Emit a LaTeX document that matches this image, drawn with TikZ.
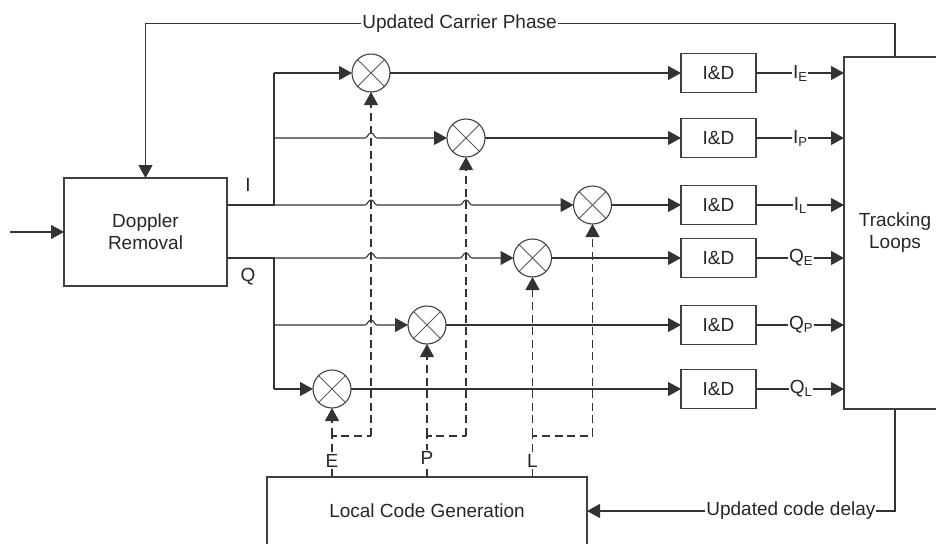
\documentclass[tikz,border=0pt]{standalone}
\usepackage{fontspec}
\setmainfont{Liberation Sans}
\usetikzlibrary{arrows.meta,positioning,calc}

% little lowered index on the output labels
\newcommand{\idx}[1]{\raisebox{-3pt}{\fontsize{13}{15}\selectfont #1}}
% horizontal line hopping over a vertical one at point (#1)
\newcommand{\hop}[1]{-- ($(#1)+(-6,0)$) .. controls +(2.5,0) and +(-3,0) .. ($(#1)+(0,-5)$)
  .. controls +(3,0) and +(-2.5,0) .. ($(#1)+(6,0)$)}

\begin{document}
\begin{tikzpicture}[
  x=1pt, y=-1pt,
  font=\fontsize{19}{22}\selectfont,
  >={Triangle[length=13pt,width=14pt]},
  block/.style={draw=black!75, line width=1.1pt, align=center, outer sep=0pt, text=black!85},
  intdump/.style={block, minimum width=75pt, minimum height=39pt},
  mixer/.style={draw=black!75, line width=1.1pt, circle, minimum size=38pt, inner sep=0pt,
    outer sep=0pt, path picture={
      \draw[black!65, line width=.8pt] (path picture bounding box.north west)
        -- (path picture bounding box.south east);
      \draw[black!65, line width=.8pt] (path picture bounding box.north east)
        -- (path picture bounding box.south west);}},
  sig/.style={draw=black!80, line width=1.1pt},
  ctrl/.style={draw=black!80, line width=1.1pt, dash pattern=on 8pt off 4.6pt},
  lab/.style={fill=white, inner sep=1pt, text=black!85},
  sidelab/.style={inner sep=0pt, text=black!85}
]
\useasboundingbox (0,0) rectangle (936,543);
\clip (0,0) rectangle (936,543);

% main blocks
\node[block, minimum width=163pt, minimum height=108pt] (doppler) at (145.5,232) {Doppler\\Removal};
\node[block, minimum width=102pt, minimum height=352pt] (track) at (895,233) {Tracking\\Loops};
\node[block, minimum width=320pt, minimum height=68pt] (codegen) at (427,511) {Local Code Generation};
\coordinate (inlet) at (10,232);

% mixers
\node[mixer] (mixIE) at (371,73) {};
\node[mixer] (mixIP) at (466,138) {};
\node[mixer] (mixIL) at (592.5,205) {};
\node[mixer] (mixQE) at (532.5,258) {};
\node[mixer] (mixQP) at (427,325) {};
\node[mixer] (mixQL) at (332,389) {};

% integrate and dump column
\node[intdump] (idIE) at (718.5,73) {I\&D};
\node[intdump, below=26pt of idIE] (idIP) {I\&D};
\node[intdump, below=28pt of idIP] (idIL) {I\&D};
\node[intdump, below=14pt of idIL] (idQE) {I\&D};
\node[intdump, below=28pt of idQE] (idQP) {I\&D};
\node[intdump, below=25pt of idQP] (idQL) {I\&D};

% I and Q buses
\coordinate (busI) at (274,205);
\coordinate (busQ) at (274,258);
\draw[sig] (doppler.east |- busI) -- (busI) -- (busI |- mixIE);
\draw[sig] (doppler.east |- busQ) -- (busQ) -- (busQ |- mixQL);
\draw[sig,->] (busI |- mixIE) -- (mixIE.west);
\draw[sig,->] (busI |- mixIP) \hop{mixIE |- mixIP} -- (mixIP.west);
\draw[sig,->] (busI) \hop{mixIE |- busI} \hop{mixIP |- busI} -- (mixIL.west);
\draw[sig,->] (busQ) \hop{mixIE |- busQ} \hop{mixIP |- busQ} -- (mixQE.west);
\draw[sig,->] (busQ |- mixQP) \hop{mixIE |- mixQP} -- (mixQP.west);
\draw[sig,->] (busQ |- mixQL) -- (mixQL.west);

% mixers to I&D
\draw[sig,->] (mixIE.east) -- (idIE.west |- mixIE);
\draw[sig,->] (mixIP.east) -- (idIP.west |- mixIP);
\draw[sig,->] (mixIL.east) -- (idIL.west |- mixIL);
\draw[sig,->] (mixQE.east) -- (idQE.west |- mixQE);
\draw[sig,->] (mixQP.east) -- (idQP.west |- mixQP);
\draw[sig,->] (mixQL.east) -- (idQL.west |- mixQL);

% I&D to tracking
\draw[sig,->] (idIE.east |- mixIE) -- node[lab, pos=.5] (lblIE) {I\idx{E}} (track.west |- mixIE);
\draw[sig,->] (idIP.east |- mixIP) -- node[lab, pos=.5] (lblIP) {I\idx{P}} (track.west |- mixIP);
\draw[sig,->] (idIL.east |- mixIL) -- node[lab, pos=.5] (lblIL) {I\idx{L}} (track.west |- mixIL);
\draw[sig,->] (idQE.east |- mixQE) -- node[lab, pos=.51] (lblQE) {Q\idx{E}} (track.west |- mixQE);
\draw[sig,->] (idQP.east |- mixQP) -- node[lab, pos=.51] (lblQP) {Q\idx{P}} (track.west |- mixQP);
\draw[sig,->] (idQL.east |- mixQL) -- node[lab, pos=.51] (lblQL) {Q\idx{L}} (track.west |- mixQL);

% code replicas, dashed
\coordinate (tapE) at (332,436);
\coordinate (tapP) at (427,436);
\coordinate (tapL) at (532.5,436);
\draw[ctrl] (codegen.north -| tapE) -- (tapE) -- (mixIE |- tapE);
\draw[ctrl,->] (mixIE |- tapE) -- (mixIE.south);
\draw[ctrl,->] (tapE) -- (mixQL.south);
\draw[ctrl] (codegen.north -| tapP) -- (tapP) -- (mixIP |- tapP);
\draw[ctrl,->] (mixIP |- tapP) -- (mixIP.south);
\draw[ctrl,->] (tapP) -- (mixQP.south);
\draw[ctrl] (codegen.north -| tapL) -- (tapL) -- (mixIL |- tapL);
\draw[ctrl,->] (mixIL |- tapL) -- (mixIL.south);
\draw[ctrl,->] (tapL) -- (mixQE.south);
\node[lab] (lblE) at (332,461) {E};
\node[lab] (lblP) at (427,458) {P};
\node[lab] (lblL) at (532.5,461) {L};

% feedback and input
\draw[sig,->] (inlet) -- (doppler.west);
\coordinate (phaseturn) at (895,23.5);
\draw[sig,->] (track.north) -- (phaseturn) -- node[lab, pos=.581] (lblphase) {Updated Carrier Phase}
  (doppler.north |- phaseturn) -- (doppler.north);
\coordinate (delayturn) at (895,511);
\draw[sig,->] (track.south -| delayturn) -- (delayturn) -- node[lab, pos=.338] (lbldelay) {Updated code delay} (codegen.east);

\node[sidelab] (lblI) at (248,185) {I};
\node[sidelab] (lblQ) at (248,277) {Q};
\end{tikzpicture}
\end{document}
